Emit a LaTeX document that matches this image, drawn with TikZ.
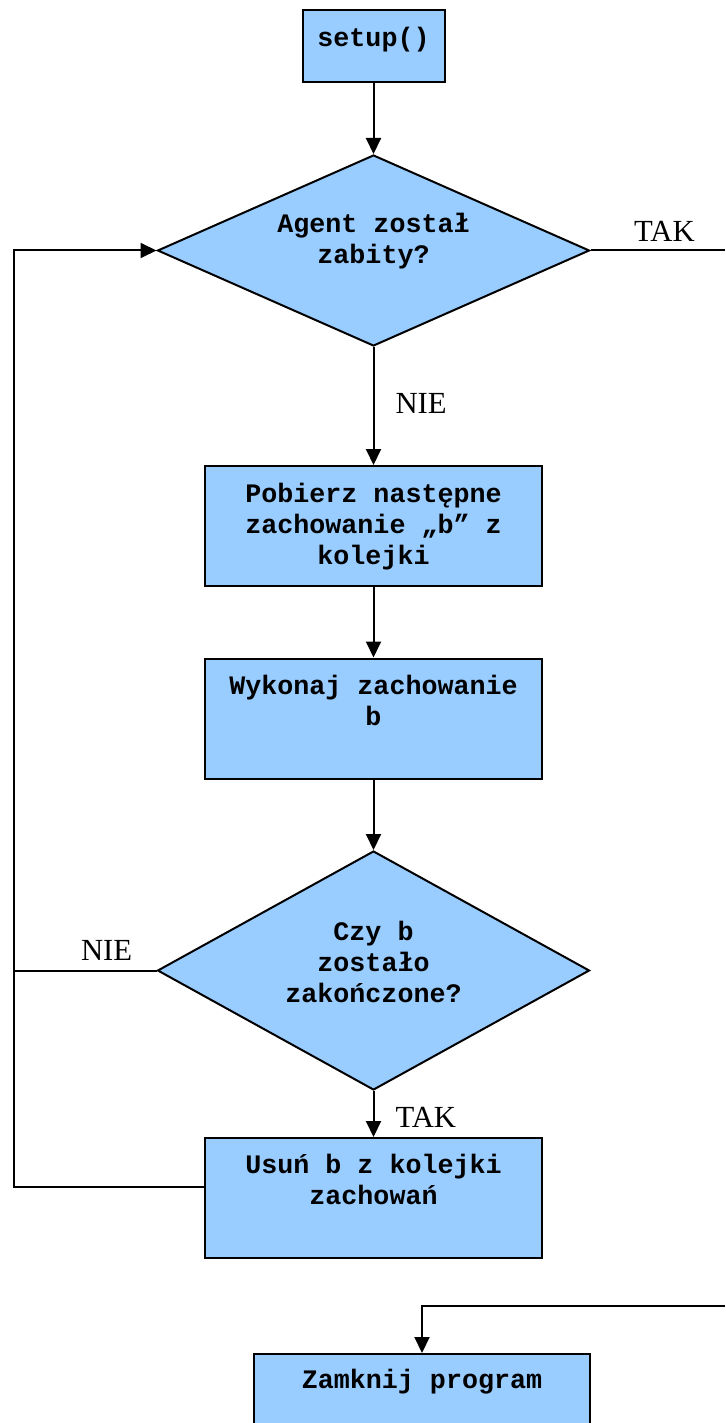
\documentclass[tikz,border=0pt]{standalone}
\usepackage{fontspec}
\setmainfont{Liberation Serif}
\newfontfamily\boxfont{Liberation Mono}
\usetikzlibrary{shapes.geometric,arrows.meta,calc}
\definecolor{boxblue}{HTML}{99CCFF}

\begin{document}
\begin{tikzpicture}[x=1pt,y=-1pt,
  stepbox/.style={draw=black, line width=2pt, fill=boxblue, rectangle,
    inner sep=0pt, minimum width=337pt, minimum height=120pt},
  decision/.style={draw=black, line width=2pt, fill=boxblue, diamond,
    inner sep=0pt, minimum width=432pt},
  % multi-line box texts are placed by the baseline of their last line
  boxtext/.style={font=\boxfont\bfseries\fontsize{26.7}{31}\selectfont,
    align=center, anchor=base, inner sep=0pt},
  lbl/.style={font=\fontsize{30.7}{34}\selectfont, inner sep=0pt},
  conn/.style={line width=2pt},
  flow/.style={conn, -{Triangle[length=16pt,width=15pt]}}]

\clip (0,0) rectangle (725,1423);

% process boxes and decisions
\node[stepbox, minimum width=142pt, minimum height=72pt] (setup) at (373.5,46) {};
\node[boxtext] (setupT) at (373.5,47) {setup()};

\node[decision, minimum height=191pt] (ask) at (373.5,250.5) {};
\node[boxtext] (askT) at (373.5,263) {Agent został\\zabity?};

\node[stepbox] (fetch) at (373.5,526) {};
\node[boxtext] (fetchT) at (373.5,564) {Pobierz następne\\zachowanie „b” z\\kolejki};

\node[stepbox] (run) at (373.5,718.5) {};
\node[boxtext] (runT) at (373.5,725) {Wykonaj zachowanie\\b};

\node[decision, minimum height=239pt] (done) at (373.5,970.5) {};
\node[boxtext] (doneT) at (373.5,1002) {Czy b\\zostało\\zakończone?};

\node[stepbox] (remove) at (373.5,1198) {};
\node[boxtext] (removeT) at (373.5,1204) {Usuń b z kolejki\\zachowań};

\node[stepbox, minimum width=336pt] (close) at (422,1414) {};
\node[boxtext] (closeT) at (422,1388) {Zamknij program};

% loop rail on the left and exits on the right
\coordinate (railTop) at (14,250.5);
\coordinate (railBot) at (14,1187);
\coordinate (exitR) at (725,250.5);
\coordinate (entryR) at (725,1306);

% connectors
\draw[flow] (setup.south) -- (ask.north);
\draw[flow] (ask.south) -- node[lbl, right=21pt, pos=0.475] {NIE} (fetch.north);
\draw[flow] (fetch.south) -- (run.north);
\draw[flow] (run.south) -- (done.north);
\draw[flow] (done.south) -- node[lbl, right=21pt, pos=0.58] {TAK} (remove.north);
\draw[conn] (done.west) -- node[lbl, above=9pt, pos=0.35] {NIE} (done.west -| railTop);
\draw[flow] (remove.west |- railBot) -- (railBot) -- (railTop) -- (ask.west);
\draw[conn] (ask.east) -- node[lbl, above=8pt, pos=0.55] {TAK} (exitR);
\draw[flow] (entryR) -- (entryR -| close.north) -- (close.north);

\end{tikzpicture}
\end{document}
